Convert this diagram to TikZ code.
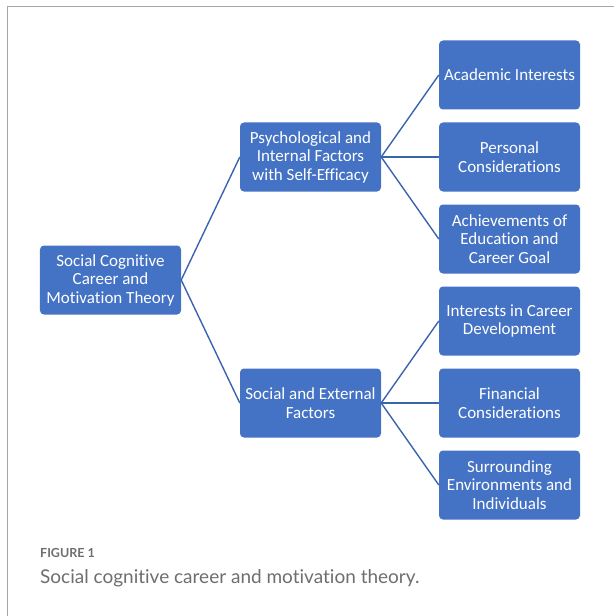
\documentclass[tikz,border=0pt]{standalone}
\usepackage{fontspec}
\usepackage{tikz}
\newfontfamily\boxfont[Ligatures=NoCommon]{Carlito}
\newfontfamily\capfont[Ligatures=NoCommon]{Lato}
\definecolor{boxblue}{HTML}{4472C4}
\definecolor{lineblue}{HTML}{3B64AE}
\definecolor{capgray}{HTML}{6E6E6E}
\tikzset{
  factor/.style={fill=boxblue,rounded corners=4bp,minimum width=141bp,minimum height=69bp,
    inner sep=0pt,align=center,text=white,font=\boxfont\fontsize{17bp}{18.5bp}\selectfont},
  link/.style={lineblue,line width=1.4bp}
}

\begin{document}
\begin{tikzpicture}[x=1bp,y=-1bp]
              \useasboundingbox (0,0) rectangle (614,616);
              \draw[black!35,line width=1bp] (7,616) -- (7,7) -- (614,7);
              % left and middle columns
              \node[factor](root)at(110.5,280){Social Cognitive\\Career and\\Motivation Theory};
              \node[factor](psy)at(310.5,157){Psychological and\\Internal Factors\\with Self-Efficacy};
              \node[factor](soc)at(310.5,403){Social and External\\Factors};
              % right column
              \node[factor](ai)at(509.5,75){Academic Interests};
              \node[factor](pc)at(509.5,157){Personal\\Considerations};
              \node[factor](ae)at(509.5,239){Achievements of\\Education and\\Career Goal};
              \node[factor](ic)at(509.5,321){Interests in Career\\Development};
              \node[factor](fc)at(509.5,403){Financial\\Considerations};
              \node[factor](se)at(509.5,485){Surrounding\\Environments and\\Individuals};
              \draw[link](root.east)--(psy.west);
              \draw[link](root.east)--(soc.west);
              \foreach \t in {ai,pc,ae}
                \draw[link](psy.east)--(\t.west);
              \foreach \t in {ic,fc,se}
                \draw[link](soc.east)--(\t.west);
              % caption
              \node[anchor=base west,inner sep=0pt,text=capgray,font=\capfont\bfseries\fontsize{12.5bp}{15bp}\selectfont](fig)at(40,557){FIGURE 1};
              \node[anchor=base west,inner sep=0pt,text=capgray,font=\capfont\fontsize{19bp}{22bp}\selectfont](cap)at(40,583){Social cognitive career and motivation theory.};
            \end{tikzpicture}
\end{document}
